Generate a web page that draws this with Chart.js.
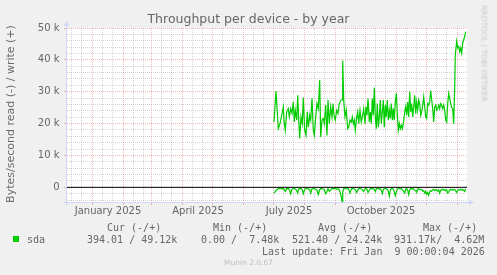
<!DOCTYPE html>
<html><head><meta charset="utf-8">
<script src="https://cdn.jsdelivr.net/npm/chart.js@4/dist/chart.umd.min.js"></script>
<style>
html,body{margin:0;padding:0;background:#f0f0f0;}
body{width:497px;height:275px;overflow:hidden;position:relative;font-family:'DejaVu Sans',sans-serif;color:#666;}
#c{position:absolute;left:0;top:0;}
.t{position:absolute;white-space:pre;}
.m{font-family:'DejaVu Sans Mono',monospace;font-size:10px;line-height:12px;color:#666;}
</style></head><body>
<canvas id="c" width="497" height="275"></canvas>
<div class="t" style="left:0;top:10.6px;width:497px;text-align:center;font-size:12.5px;line-height:15px;">Throughput per device - by year</div>
<div class="t" style="left:-89px;top:107px;width:200px;height:14px;text-align:center;font-size:11px;line-height:14px;color:#6a6a6a;transform:rotate(-90deg);">Bytes/second read (-) / write (+)</div>
<div class="t" style="left:434px;top:49px;width:100px;height:9px;text-align:center;font-size:7.5px;line-height:9px;color:#c8c8c8;transform:rotate(90deg);">RRDTOOL / TOBI OETIKER</div>
<div id="legend"></div>
<div class="t" style="left:0;top:258px;width:497px;text-align:center;font-size:7.5px;line-height:9px;color:#c0c0c0;">Munin 2.0.67</div>
<script>
// ---- data (x = days since 1 Jan 2025, values in thousands of bytes/second) ----
const xMinDay = -25.5;           // ~6 Dec 2024
const xMaxDay = 374.5;           // ~9 Jan 2026
const monthStartDays = [0,31,59,90,120,151,181,212,243,273,304,334,365];
const minorGridDays = [-21,-11,10,20,41,51,69,79,100,110,130,140,161,171,191,201,222,232,253,263,283,293,314,324,344,354];
const xLabelDays = [15.5,105.5,196.5,288.5];
const xLabelNames = ['January 2025','April 2025','July 2025','October 2025'];
const yMin = -4.6, yMax = 50;
const yMajorTicks = [0,10,20,30,40,50];
const yMinorTicks = [-4,-2,2,4,6,8,12,14,16,18,22,24,26,28,32,34,36,38,42,44,46,48];

const sampleDays = [
181.5,183.5,185.8,187.5,189.2,190.8,191.5,192.8,194.2,195.8,
196.8,198.2,199.5,200.8,201.8,202.8,204.2,205.2,206.2,207.2,
208.5,209.8,210.8,212.2,213.5,214.8,215.8,217.2,218.2,219.5,
220.8,221.8,223.2,224.5,225.8,227.2,228.2,229.5,230.8,231.8,
233.2,234.5,235.5,236.8,238.2,239.5,240.5,241.5,242.8,244.2,
245.5,246.8,248.5,249.5,250.2,251.2,252.5,253.8,255.2,256.2,
257.5,258.8,259.8,260.8,261.8,262.8,264.2,265.2,266.2,267.5,
268.8,269.8,271.2,272.5,273.5,274.5,275.5,276.8,277.8,278.8,
279.8,280.8,281.8,282.8,283.8,284.8,285.8,286.8,287.8,288.8,
289.8,290.8,291.8,292.8,293.8,294.8,295.8,296.8,297.8,298.8,
299.8,300.8,301.8,302.8,303.8,304.8,305.8,306.8,307.8,308.8,
309.8,310.8,312.2,313.2,314.2,315.2,316.2,317.2,318.2,319.2,
320.2,321.2,322.2,323.2,324.2,325.2,326.2,327.2,328.2,329.2,
330.2,331.2,332.2,333.2,334.2,335.2,336.2,337.2,338.2,339.2,
340.2,341.2,342.2,343.2,344.2,345.2,346.2,347.2,348.2,349.2,
350.2,351.2,352.2,353.2,354.2,355.2,356.2,357.2,358.2,359.2,
360.2,361.2,362.2,362.8,364.2,365.2,366.2,367.2,368.2,369.2,
370.2,371.2,372.2,373.2];

const writeK = [
20.5,30.2,18.4,20.0,22.6,25.3,21.1,17.9,23.7,24.7,
22.1,24.7,23.2,26.8,20.5,24.2,21.1,28.9,21.1,15.3,
22.1,20.0,28.2,17.9,16.3,23.7,18.9,22.6,21.1,27.9,
17.9,16.3,22.1,26.3,24.7,33.7,15.8,21.1,21.6,20.0,
25.8,16.3,27.4,20.0,25.3,22.1,26.3,22.6,21.1,24.2,
23.2,26.3,27.4,27.4,39.8,27.4,22.1,24.2,18.4,18.9,
21.1,20.5,22.1,20.0,21.1,17.9,22.1,23.7,20.0,24.2,
20.5,22.1,24.7,20.0,25.3,22.6,27.9,20.5,23.7,20.0,
27.9,22.6,31.3,22.1,18.4,26.3,18.9,22.1,27.4,20.0,
23.7,27.4,18.9,25.8,22.1,27.4,21.1,24.2,21.6,26.3,
21.1,24.7,21.1,26.8,29.5,23.2,17.9,20.0,18.4,19.5,
18.4,20.0,23.7,25.3,22.6,26.8,22.1,30.0,23.7,26.3,
22.1,25.3,28.9,23.2,26.8,24.2,27.4,26.3,22.6,23.7,
25.8,28.4,25.3,22.1,21.6,26.3,25.8,26.8,30.3,27.4,
24.7,20.5,25.3,25.8,24.2,24.7,25.8,24.7,26.3,25.8,
24.7,25.8,24.2,21.1,20.5,26.3,29.5,27.9,26.3,25.1,
24.7,20.0,31.6,41.6,45.8,43.7,44.2,42.6,43.7,42.1,
45.3,46.3,47.4,48.9];

const readK = [
-1.8,-1.0,-0.4,-0.3,-0.5,-0.4,-0.6,-1.3,-0.4,-0.3,
-0.8,-2.0,-0.6,-0.3,-0.4,-0.5,-1.0,-1.8,-0.5,-0.3,
-0.4,-0.8,-2.0,-0.6,-0.3,-0.4,-0.5,-0.7,-1.8,-0.5,
-0.3,-0.4,-0.6,-0.9,-2.3,-0.7,-0.3,-0.4,-0.5,-0.8,
-2.0,-1.2,-0.4,-1.3,-0.8,-0.3,-0.5,-0.4,-0.3,-0.6,
-0.4,-0.7,-2.5,-4.4,-1.5,-0.4,-0.3,-0.5,-0.3,-0.7,
-1.8,-0.6,-0.3,-0.4,-0.5,-0.8,-1.6,-1.0,-0.4,-0.3,
-0.5,-0.8,-1.3,-0.5,-0.3,-0.6,-1.6,-0.9,-0.4,-0.3,
-0.5,-0.4,-0.7,-1.3,-0.5,-0.3,-0.4,-0.6,-0.4,-0.9,
-2.0,-0.7,-0.4,-0.3,-0.5,-0.6,-1.2,-2.8,-0.9,-0.4,
-0.3,-0.6,-1.4,-2.6,-1.5,-0.6,-0.4,-0.3,-0.5,-0.4,
-0.7,-1.1,-1.8,-0.6,-0.4,-0.9,-2.3,-0.8,-0.4,-0.5,
-0.3,-0.6,-0.9,-1.0,-1.6,-0.6,-0.4,-0.7,-0.8,-0.6,
-1.2,-1.0,-1.8,-1.3,-2.2,-1.6,-2.5,-1.4,-1.0,-1.2,
-0.8,-0.6,-1.0,-0.7,-0.9,-1.2,-0.8,-1.8,-0.9,-0.7,
-0.6,-0.9,-0.7,-1.1,-0.8,-1.8,-1.4,-0.8,-0.6,-0.9,
-0.7,-0.8,-0.6,-1.0,-1.6,-0.9,-0.7,-0.8,-0.6,-0.9,
-0.7,-1.0,-1.3,-0.5];

const legendHead = ['Cur (-/+)','Min (-/+)','Avg (-/+)','Max (-/+)'];
const legendRow = ['394.01 / 49.12k','0.00 /  7.48k','521.40 / 24.24k','931.17k/  4.62M'];
const seriesName = 'sda';
const lastUpdate = 'Last update: Fri Jan  9 00:00:04 2026';

// ---- styles ----
const GREEN = '#00cc00';
const GRID = 'rgba(143,143,143,0.38)';
const MGRID = 'rgba(222,79,79,0.38)';
const AXIS = '#cfd6f8';
const FONT = '#666666';

// legend (real text)
(function(){
  const L = document.getElementById('legend');
  const headX = [107,213,318,423];
  const rowX = [87,201,292,394];
  let h = '';
  legendHead.forEach((s,i)=>{ h += `<div class="t m" style="left:${headX[i]}px;top:221.5px">${s}</div>`; });
  h += `<div class="t" style="left:13px;top:236px;width:6px;height:6px;background:${GREEN}"></div>`;
  h += `<div class="t m" style="left:27px;top:233.5px">${seriesName}</div>`;
  legendRow.forEach((s,i)=>{ h += `<div class="t m" style="left:${rowX[i]}px;top:233.5px">${s}</div>`; });
  h += `<div class="t m" style="left:262px;top:245.5px">${lastUpdate}</div>`;
  L.innerHTML = h;
})();

const toPts = (vals) => vals.map((v,i)=>({x: sampleDays[i], y: v}));
const setTicks = (arr) => (scale) => { scale.ticks = arr.map(v=>({value:v})); };

const decor = {
  id: 'decor',
  beforeDraw(chart){
    const {ctx, chartArea:a} = chart;
    ctx.save();
    ctx.fillStyle = '#ffffff';
    ctx.fillRect(a.left, a.top, a.right-a.left, a.bottom-a.top);
    ctx.restore();
  },
  beforeDatasetsDraw(chart){
    const {ctx, chartArea:a} = chart;
    ctx.save();
    ctx.strokeStyle = AXIS; ctx.fillStyle = AXIS; ctx.lineWidth = 1;
    const xl = Math.round(a.left) - 0.5, yb = Math.round(a.bottom) + 0.5;
    ctx.beginPath();
    ctx.moveTo(xl, a.bottom + 3); ctx.lineTo(xl, a.top - 3);
    ctx.moveTo(a.left - 3, yb); ctx.lineTo(a.right + 3, yb);
    ctx.stroke();
    ctx.beginPath();
    ctx.moveTo(xl, a.top - 7); ctx.lineTo(xl - 2.5, a.top - 2); ctx.lineTo(xl + 2.5, a.top - 2); ctx.closePath(); ctx.fill();
    ctx.beginPath();
    ctx.moveTo(a.right + 7, yb); ctx.lineTo(a.right + 2, yb - 2.5); ctx.lineTo(a.right + 2, yb + 2.5); ctx.closePath(); ctx.fill();
    ctx.restore();
  }
};

Chart.defaults.font.family = "'DejaVu Sans'";
Chart.defaults.color = FONT;

new Chart(document.getElementById('c'), {
  type: 'line',
  data: {
    datasets: [
      { data: [{x:xMinDay,y:0},{x:xMaxDay,y:0}], borderColor:'#000000', borderWidth:1, pointRadius:0, tension:0 },
      { data: toPts(writeK), borderColor: GREEN, borderWidth: 1.2, pointRadius: 0, tension: 0 },
      { data: toPts(readK), borderColor: GREEN, borderWidth: 1.2, pointRadius: 0, tension: 0 }
    ]
  },
  options: {
    responsive: false, devicePixelRatio: 1, animation: false,
    layout: { padding: { top: 28, right: 30, left: 0, bottom: 0 } },
    plugins: { legend: {display:false}, tooltip: {enabled:false}, title:{display:false} },
    scales: {
      xMinor: {
        type:'linear', position:'bottom', weight:0, min:xMinDay, max:xMaxDay,
        afterBuildTicks: setTicks(minorGridDays),
        afterFit: (s)=>{ s.height = 0; },
        ticks:{display:false},
        grid:{color:GRID, lineWidth:1, drawTicks:false},
        border:{display:false, dash:[1,1]}
      },
      xMonth: {
        type:'linear', position:'bottom', weight:1, min:xMinDay, max:xMaxDay,
        afterBuildTicks: setTicks(monthStartDays),
        afterFit: (s)=>{ s.height = 0; },
        ticks:{display:false},
        grid:{color:MGRID, lineWidth:1, drawTicks:true, tickLength:3, tickColor:MGRID},
        border:{display:false, dash:[1,1]}
      },
      x: {
        type:'linear', position:'bottom', weight:2, min:xMinDay, max:xMaxDay,
        afterBuildTicks: setTicks(xLabelDays),
        afterFit: (s)=>{ s.height = 73; },
        ticks:{ autoSkip:false, maxRotation:0, minRotation:0, padding:3, color:FONT, font:{size:10},
          callback:(v,i)=>xLabelNames[i] },
        grid:{display:false, drawTicks:false},
        border:{display:false}
      },
      yMinor: {
        type:'linear', position:'left', weight:0, min:yMin, max:yMax,
        afterBuildTicks: setTicks(yMinorTicks),
        afterFit: (s)=>{ s.width = 0; },
        ticks:{display:false},
        grid:{color:GRID, lineWidth:1, drawTicks:false},
        border:{display:false, dash:[1,1]}
      },
      y: {
        type:'linear', position:'left', weight:1, min:yMin, max:yMax,
        afterBuildTicks: setTicks(yMajorTicks),
        afterFit: (s)=>{ s.width = 67; },
        ticks:{ padding:4.5, color:FONT, font:{size:10}, callback:(v)=> v===0 ? '0' : v + ' k' },
        grid:{color:MGRID, lineWidth:1, drawTicks:true, tickLength:3, tickColor:MGRID},
        border:{display:false, dash:[1,1]}
      }
    }
  },
  plugins: [decor]
});
</script>
</body></html>
